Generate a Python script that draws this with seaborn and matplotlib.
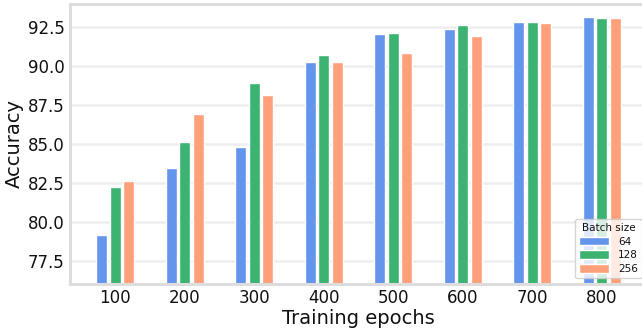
import matplotlib
matplotlib.use("Agg")
import matplotlib.pyplot as plt
import seaborn as sns
import pandas as pd

epochs = ["100", "200", "300", "400", "500", "600", "700", "800"]
batch_sizes = ["64", "128", "256"]
acc_64 = [79.17, 83.46, 84.81, 90.26, 92.05, 92.37, 92.82, 93.14]
acc_128 = [82.24, 85.13, 88.91, 90.71, 92.12, 92.63, 92.82, 93.08]
acc_256 = [82.63, 86.92, 88.14, 90.26, 90.83, 91.92, 92.76, 93.08]
yticks = [77.5, 80.0, 82.5, 85.0, 87.5, 90.0, 92.5]

rows = []
for bs, vals in zip(batch_sizes, [acc_64, acc_128, acc_256]):
    for ep, v in zip(epochs, vals):
        rows.append({"Training epochs": ep, "Accuracy": v, "Batch size": bs})
df = pd.DataFrame(rows)

sns.set_theme(style="whitegrid")
plt.rcParams["font.family"] = ["DejaVu Sans"]
text_color = "#111111"

fig = plt.figure(figsize=(6.42, 3.29), dpi=100)
# the axes run slightly past the right edge of the canvas
ax = fig.add_axes([0.109, 0.137, 0.899, 0.851])

palette = ["#6495ED", "#3CB371", "#FFA07A"]
sns.barplot(data=df, x="Training epochs", y="Accuracy", hue="Batch size",
            order=epochs, hue_order=batch_sizes, palette=palette,
            width=0.58, gap=0.185, saturation=1, ax=ax)

ax.set_ylim(76, 94)
ax.set_xlim(-0.65, 7.65)
ax.set_yticks(yticks)
ax.set_yticklabels([f"{t:.1f}" for t in yticks])
ax.tick_params(axis="both", labelsize=12, length=0, pad=4, labelcolor=text_color)
ax.set_xlabel("Training epochs", fontsize=14, labelpad=1, color=text_color)
ax.set_ylabel("Accuracy", fontsize=14, labelpad=3, color=text_color)

ax.grid(axis="x", visible=False)
ax.grid(axis="y", color="#eeeeee", linewidth=1.8)
ax.set_axisbelow(True)
for s in ax.spines.values():
    s.set_color("#dddddd")
    s.set_linewidth(2.2)

leg = ax.legend(title="Batch size", loc="lower right",
                bbox_to_anchor=(642 / 642, 1 - 278 / 329),
                bbox_transform=fig.transFigure, fontsize=7.5, title_fontsize=7.5,
                frameon=True, borderpad=0.4, handlelength=2.8,
                handleheight=0.9, labelspacing=0.35, borderaxespad=0,
                handletextpad=0.9)
leg.get_frame().set_alpha(0.8)
for t in leg.get_texts():
    t.set_color(text_color)
leg.get_title().set_color(text_color)

fig.savefig("out.png", dpi=100)
